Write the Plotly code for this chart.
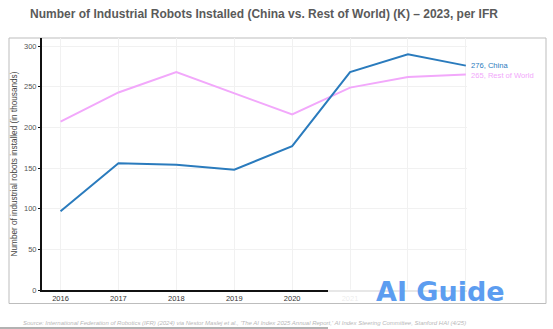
import plotly.graph_objects as go

years = [2016, 2017, 2018, 2019, 2020, 2021, 2022, 2023]
china = [97, 156, 154, 148, 177, 268, 290, 276]
rest_of_world = [207, 243, 268, 242, 216, 249, 262, 265]
y_ticks = [0, 50, 100, 150, 200, 250, 300]
# the last two year labels are hidden under the watermark in the reference
x_tick_labels = ["2016", "2017", "2018", "2019", "2020", "2021", "", ""]

title = "Number of Industrial Robots Installed (China vs. Rest of World) (K) – 2023, per IFR"
y_title = "Number of industrial robots installed (in thousands)"
source = ("Source: International Federation of Robotics (IFR) (2024) via Nestor Maslej et al., "
          "'The AI Index 2025 Annual Report,' AI Index Steering Committee, Stanford HAI (4/25)")

blue = "#2a7bbd"
pink = "#f2a8fb"
FONT = "Liberation Sans, Arial, Helvetica, sans-serif"

W, H = 553, 329
L, R, T, B = 42, 86, 38, 39
pw, ph = W - L - R, H - T - B

def px(x):
    return (x - L) / pw

def py(y):
    return (H - B - y) / ph

fig = go.Figure()
fig.add_trace(go.Scatter(x=years, y=rest_of_world, mode="lines", name="Rest of World",
                         line=dict(color=pink, width=2), hoverinfo="skip"))
fig.add_trace(go.Scatter(x=years, y=china, mode="lines", name="China",
                         line=dict(color=blue, width=2), hoverinfo="skip"))

fig.update_layout(
    width=W, height=H,
    margin=dict(l=L, r=R, t=T, b=B, pad=0),
    paper_bgcolor="white", plot_bgcolor="white",
    showlegend=False,
    font=dict(family=FONT, color="#444"),
    title=dict(text="<b>" + title + "</b>", x=264 / W, xanchor="center",
               y=1 - 13.5 / H, yanchor="middle", yref="container",
               font=dict(size=12, color="#5a5a5a", family=FONT)),
    xaxis=dict(range=[2015.68, 2023.02], tickmode="array", tickvals=years,
               ticktext=x_tick_labels,
               showgrid=True, gridcolor="#f1f1f1", gridwidth=1,
               showline=True, linecolor="#111", linewidth=2,
               zeroline=False, ticks="", tickfont=dict(size=7.5, color="#333")),
    yaxis=dict(range=[0, 310], tickmode="array", tickvals=y_ticks,
               showgrid=True, gridcolor="#f1f1f1", gridwidth=1,
               showline=True, linecolor="#111", linewidth=2,
               zeroline=False, ticks="outside", ticklen=2, tickcolor="#111",
               tickfont=dict(size=7.5, color="#555"),
               title=dict(text=y_title, font=dict(size=8.2, color="#444"), standoff=5)),
)

shapes = [
    # outer frame
    dict(type="rect", xref="paper", yref="paper",
         x0=px(9), x1=px(546), y0=py(303.5), y1=py(38),
         line=dict(color="#bdbdbd", width=1), fillcolor="rgba(0,0,0,0)", layer="below"),
    # bottom separator line
    dict(type="line", xref="paper", yref="paper",
         x0=px(0), x1=px(328), y0=py(328), y1=py(328),
         line=dict(color="#999", width=1.5)),
    # watermark patch
    dict(type="rect", xref="paper", yref="paper",
         x0=px(328), x1=px(545), y0=py(302.5), y1=py(289.5),
         line=dict(width=0), fillcolor="rgba(255,255,255,0.9)", layer="above"),
]
fig.update_layout(shapes=shapes)

fig.add_annotation(x=years[-1], y=china[-1], xref="x", yref="y",
                   text=f"{china[-1]}, China", showarrow=False, xanchor="left",
                   yanchor="middle", xshift=3, yshift=0,
                   font=dict(size=7.6, color=blue, family=FONT))
fig.add_annotation(x=years[-1], y=rest_of_world[-1], xref="x", yref="y",
                   text=f"{rest_of_world[-1]}, Rest of World", showarrow=False, xanchor="left",
                   yanchor="middle", xshift=3, yshift=-1,
                   font=dict(size=7.6, color=pink, family=FONT))
fig.add_annotation(x=px(244.7), y=py(323.3), xref="paper", yref="paper",
                   text="<i>" + source + "</i>", showarrow=False, xanchor="center",
                   yanchor="middle", font=dict(size=6, color="#b8b8b8", family=FONT))
fig.add_annotation(x=px(440), y=py(291), xref="paper", yref="paper",
                   text="<b>AI Guide</b>", showarrow=False, xanchor="center",
                   yanchor="middle", font=dict(size=27, color="#5c9df0", family="DejaVu Sans, sans-serif"))

fig.write_html("out.html")
